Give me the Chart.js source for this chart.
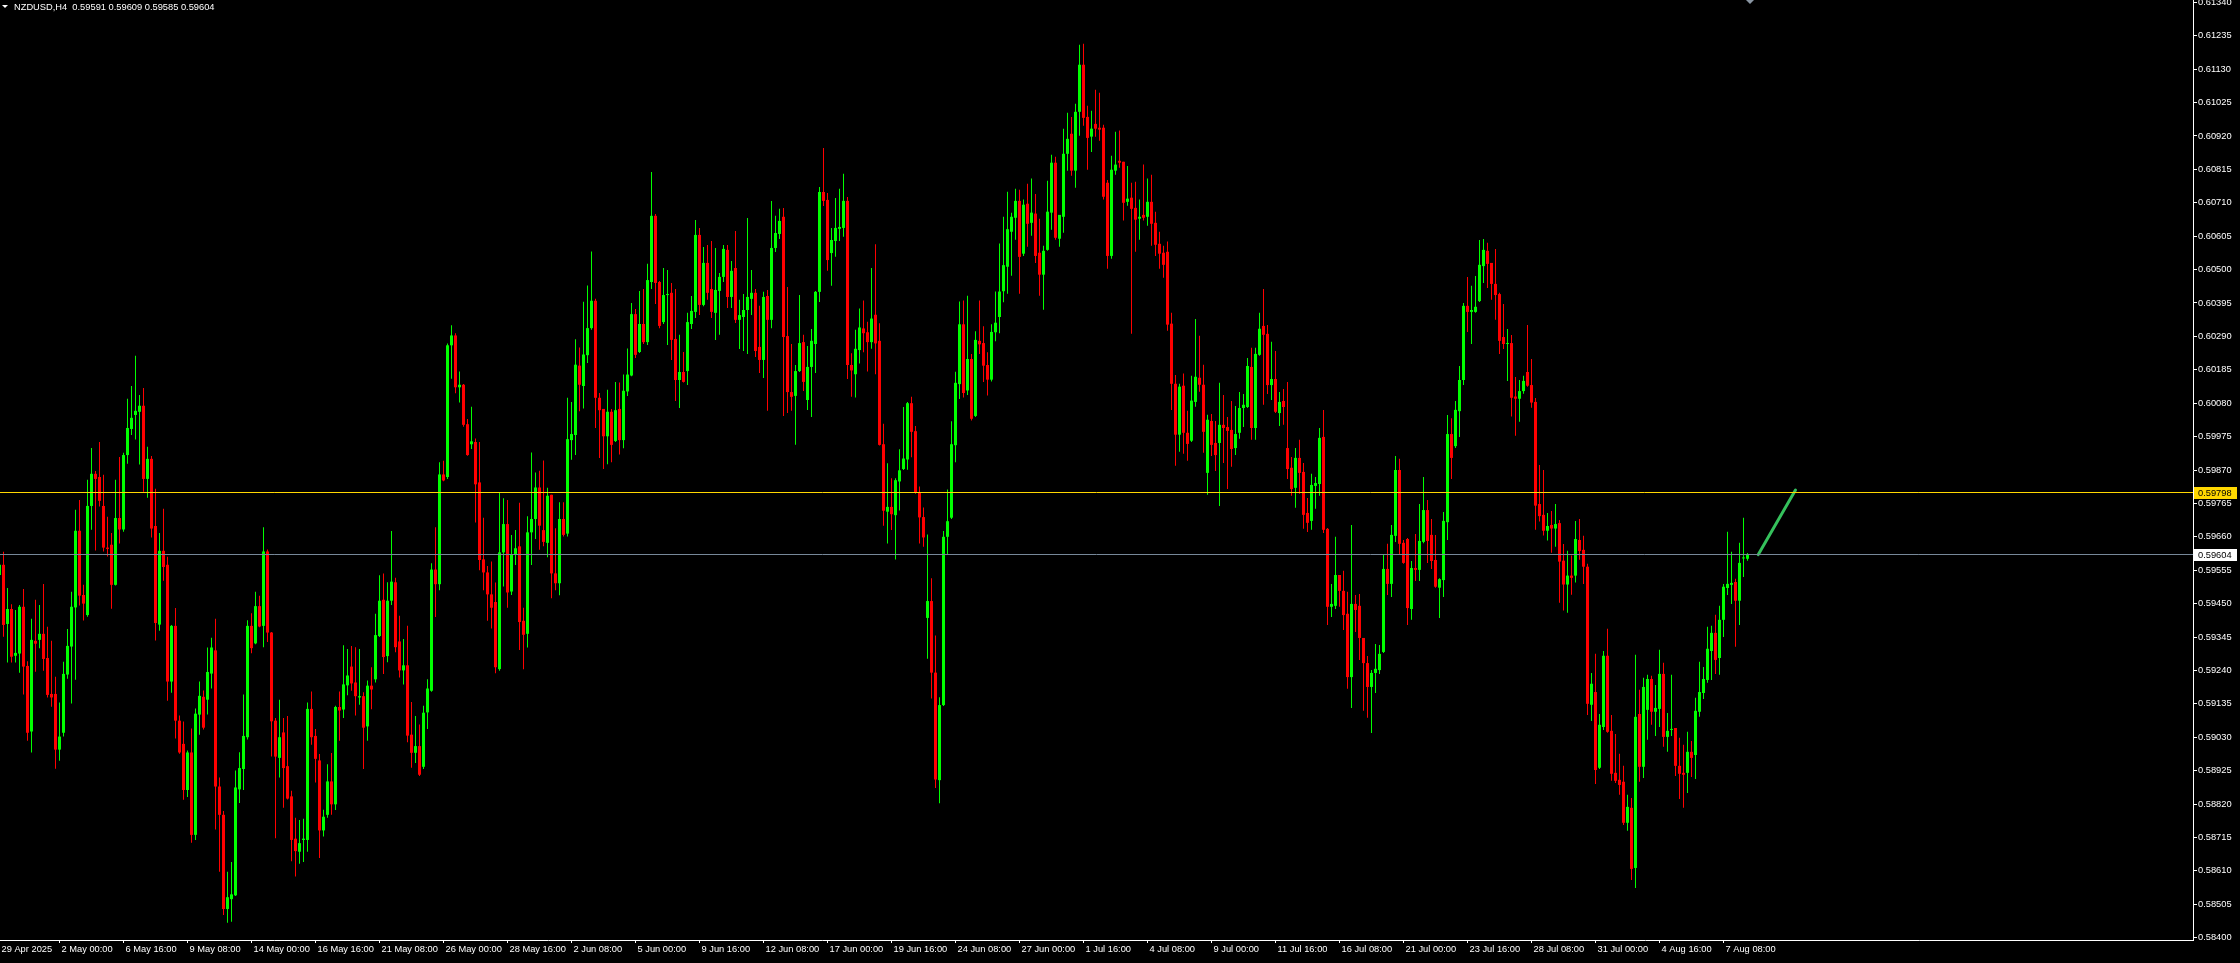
<!DOCTYPE html>
<html lang="en">
<head>
<meta charset="utf-8">
<title>NZDUSD,H4</title>
<script src="https://cdn.jsdelivr.net/npm/chart.js@4.4.1/dist/chart.umd.min.js"></script>
<style>
  html, body { margin: 0; padding: 0; background: #000; overflow: hidden; }
  canvas { display: block; }
</style>
</head>
<body>
<canvas id="chart" width="2240" height="963"></canvas>
<script>
// NZDUSD H4, one entry per bar. firstBar is the candle cut by the left edge.
const symbol = 'NZDUSD,H4';
const firstBar = -1;

const opens = [
  0.59540, 0.59572, 0.59386, 0.59433, 0.59286, 0.59293, 0.59440, 0.59254, 0.59048, 0.59333,
  0.59336, 0.59355, 0.59279, 0.59166, 0.59166, 0.58991, 0.59044, 0.59227, 0.59315, 0.59438,
  0.59679, 0.59477, 0.59414, 0.59757, 0.59858, 0.59848, 0.59757, 0.59626, 0.59635, 0.59509,
  0.59719, 0.59683, 0.59917, 0.59999, 0.60043, 0.60053, 0.60072, 0.59842, 0.59905, 0.59694,
  0.59384, 0.59616, 0.59572, 0.59205, 0.59380, 0.59082, 0.59009, 0.58864, 0.58982, 0.58723,
  0.59101, 0.59157, 0.59148, 0.59230, 0.59303, 0.58875, 0.58786, 0.58490, 0.58521, 0.58533,
  0.58866, 0.58930, 0.59030, 0.59380, 0.59325, 0.59442, 0.59380, 0.59614, 0.59359, 0.59082,
  0.58965, 0.59045, 0.58939, 0.58844, 0.58711, 0.58670, 0.58707, 0.58707, 0.59119, 0.59034,
  0.58957, 0.58737, 0.58786, 0.58891, 0.58819, 0.59125, 0.59117, 0.59193, 0.59252, 0.59202,
  0.59155, 0.59159, 0.59064, 0.59192, 0.59212, 0.59348, 0.59462, 0.59285, 0.59459, 0.59517,
  0.59331, 0.59240, 0.59256, 0.59038, 0.58981, 0.59002, 0.58937, 0.59108, 0.59176, 0.59557,
  0.59511, 0.59856, 0.59848, 0.60262, 0.60293, 0.60130, 0.60138, 0.60014, 0.59951, 0.59958,
  0.59831, 0.59589, 0.59548, 0.59479, 0.59455, 0.59244, 0.59611, 0.59700, 0.59488, 0.59605,
  0.59630, 0.59396, 0.59355, 0.59674, 0.59716, 0.59815, 0.59681, 0.59641, 0.59792, 0.59545,
  0.59514, 0.59716, 0.59670, 0.59964, 0.59980, 0.60198, 0.60134, 0.60231, 0.60316, 0.60402,
  0.60097, 0.60062, 0.59976, 0.60053, 0.59961, 0.60062, 0.59964, 0.60117, 0.60167, 0.60360,
  0.60241, 0.60329, 0.60272, 0.60461, 0.60669, 0.60461, 0.60335, 0.60420, 0.60427, 0.60282,
  0.60153, 0.60178, 0.60181, 0.60329, 0.60367, 0.60609, 0.60389, 0.60521, 0.60439, 0.60364,
  0.60433, 0.60477, 0.60562, 0.60414, 0.60505, 0.60342, 0.60351, 0.60373, 0.60408, 0.60427,
  0.60257, 0.60216, 0.60417, 0.60342, 0.60568, 0.60612, 0.60666, 0.60291, 0.60115, 0.60103,
  0.60181, 0.60272, 0.60090, 0.60194, 0.60266, 0.60430, 0.60744, 0.60719, 0.60552, 0.60590,
  0.60628, 0.60631, 0.60716, 0.60200, 0.60171, 0.60247, 0.60315, 0.60303, 0.60272, 0.60358,
  0.60276, 0.59951, 0.59739, 0.59754, 0.59728, 0.59834, 0.59873, 0.59903, 0.60080, 0.59992,
  0.59798, 0.59722, 0.59405, 0.59458, 0.59233, 0.58895, 0.59131, 0.59660, 0.59720, 0.59948,
  0.60140, 0.60328, 0.60120, 0.60219, 0.60040, 0.60276, 0.60269, 0.60200, 0.60154, 0.60303,
  0.60351, 0.60432, 0.60509, 0.60619, 0.60663, 0.60716, 0.60550, 0.60707, 0.60647, 0.60676,
  0.60553, 0.60484, 0.60562, 0.60679, 0.60836, 0.60597, 0.60666, 0.60864, 0.60927, 0.60811,
  0.60996, 0.61144, 0.60980, 0.60918, 0.60958, 0.60946, 0.60946, 0.60773, 0.60543, 0.60811,
  0.60842, 0.60839, 0.60713, 0.60726, 0.60694, 0.60660, 0.60672, 0.60666, 0.60713, 0.60647,
  0.60581, 0.60553, 0.60556, 0.60330, 0.60141, 0.59981, 0.60135, 0.59987, 0.59962, 0.60084,
  0.60160, 0.60138, 0.59861, 0.60024, 0.59955, 0.59955, 0.60012, 0.60005, 0.59996, 0.59939,
  0.59987, 0.60065, 0.60068, 0.60194, 0.60002, 0.60232, 0.60323, 0.60298, 0.60137, 0.60156,
  0.60049, 0.60087, 0.59939, 0.59877, 0.59814, 0.59908, 0.59864, 0.59735, 0.59710, 0.59820,
  0.59826, 0.59974, 0.59685, 0.59440, 0.59443, 0.59540, 0.59490, 0.59418, 0.59219, 0.59449,
  0.59443, 0.59342, 0.59263, 0.59188, 0.59232, 0.59241, 0.59298, 0.59559, 0.59512, 0.59663,
  0.59870, 0.59641, 0.59653, 0.59433, 0.59562, 0.59556, 0.59644, 0.59744, 0.59666, 0.59587,
  0.59500, 0.59524, 0.59706, 0.59983, 0.59945, 0.60055, 0.60153, 0.60386, 0.60367, 0.60367,
  0.60401, 0.60511, 0.60559, 0.60521, 0.60455, 0.60423, 0.60288, 0.60266, 0.60269, 0.60101,
  0.60094, 0.60118, 0.60178, 0.60137, 0.60084, 0.59763, 0.59729, 0.59679, 0.59697, 0.59686,
  0.59703, 0.59585, 0.59510, 0.59538, 0.59538, 0.59650, 0.59619, 0.59566, 0.59132, 0.59172,
  0.58934, 0.59062, 0.59286, 0.59050, 0.58918, 0.58896, 0.58890, 0.58761, 0.58808, 0.58619,
  0.59103, 0.58937, 0.59116, 0.59213, 0.59110, 0.59119, 0.59229, 0.59031, 0.59053, 0.59059,
  0.58940, 0.58918, 0.58918, 0.58984, 0.58974, 0.59110, 0.59169, 0.59210, 0.59301, 0.59358,
  0.59279, 0.59399, 0.59499, 0.59509, 0.59518, 0.59459, 0.59592, 0.59591
];

const highs = [
  0.59577, 0.59613, 0.59499, 0.59448, 0.59430, 0.59446, 0.59496, 0.59269, 0.59402, 0.59462,
  0.59446, 0.59512, 0.59377, 0.59333, 0.59220, 0.59139, 0.59267, 0.59370, 0.59487, 0.59745,
  0.59776, 0.59509, 0.59839, 0.59939, 0.59867, 0.59958, 0.59855, 0.59723, 0.59672, 0.59839,
  0.59911, 0.59924, 0.60094, 0.60134, 0.60229, 0.60106, 0.60128, 0.59943, 0.59914, 0.59811,
  0.59672, 0.59748, 0.59597, 0.59383, 0.59436, 0.59098, 0.59079, 0.58988, 0.59057, 0.59120,
  0.59205, 0.59177, 0.59312, 0.59343, 0.59402, 0.58903, 0.58798, 0.58607, 0.58638, 0.58925,
  0.58983, 0.59164, 0.59398, 0.59420, 0.59487, 0.59475, 0.59690, 0.59620, 0.59361, 0.59090,
  0.59148, 0.59090, 0.59097, 0.58862, 0.58777, 0.58770, 0.58774, 0.59139, 0.59174, 0.59056,
  0.58977, 0.58802, 0.58945, 0.58980, 0.59129, 0.59174, 0.59319, 0.59307, 0.59317, 0.59313,
  0.59307, 0.59171, 0.59208, 0.59250, 0.59418, 0.59539, 0.59545, 0.59517, 0.59678, 0.59531,
  0.59412, 0.59339, 0.59380, 0.59141, 0.59097, 0.59070, 0.59129, 0.59212, 0.59577, 0.59690,
  0.59894, 0.59899, 0.60268, 0.60325, 0.60300, 0.60180, 0.60140, 0.60030, 0.60069, 0.59969,
  0.59958, 0.59720, 0.59568, 0.59582, 0.59516, 0.59800, 0.59781, 0.59776, 0.59666, 0.59681,
  0.59767, 0.59437, 0.59725, 0.59925, 0.59862, 0.59868, 0.59900, 0.59814, 0.59792, 0.59687,
  0.59769, 0.59769, 0.60097, 0.60084, 0.60281, 0.60255, 0.60399, 0.60450, 0.60557, 0.60408,
  0.60112, 0.60062, 0.60122, 0.60062, 0.60147, 0.60145, 0.60170, 0.60252, 0.60395, 0.60376,
  0.60433, 0.60439, 0.60518, 0.60807, 0.60675, 0.60464, 0.60505, 0.60499, 0.60458, 0.60439,
  0.60295, 0.60241, 0.60364, 0.60417, 0.60656, 0.60631, 0.60571, 0.60577, 0.60590, 0.60568,
  0.60489, 0.60577, 0.60577, 0.60527, 0.60621, 0.60405, 0.60423, 0.60662, 0.60499, 0.60439,
  0.60386, 0.60430, 0.60436, 0.60716, 0.60669, 0.60691, 0.60694, 0.60445, 0.60266, 0.60200,
  0.60420, 0.60295, 0.60260, 0.60313, 0.60433, 0.60760, 0.60882, 0.60741, 0.60631, 0.60725,
  0.60754, 0.60801, 0.60728, 0.60237, 0.60311, 0.60378, 0.60403, 0.60336, 0.60505, 0.60580,
  0.60331, 0.60015, 0.59891, 0.59844, 0.59844, 0.59935, 0.60068, 0.60084, 0.60100, 0.60008,
  0.59818, 0.59752, 0.59667, 0.59530, 0.59350, 0.59156, 0.59678, 0.59809, 0.60023, 0.60179,
  0.60400, 0.60403, 0.60418, 0.60235, 0.60306, 0.60403, 0.60322, 0.60240, 0.60328, 0.60431,
  0.60582, 0.60666, 0.60745, 0.60679, 0.60754, 0.60751, 0.60720, 0.60770, 0.60786, 0.60738,
  0.60660, 0.60575, 0.60779, 0.60861, 0.60855, 0.60672, 0.60943, 0.60993, 0.60980, 0.61021,
  0.61207, 0.61210, 0.61015, 0.60999, 0.61065, 0.61056, 0.60955, 0.60782, 0.60858, 0.60933,
  0.60937, 0.60839, 0.60826, 0.60773, 0.60776, 0.60720, 0.60830, 0.60786, 0.60798, 0.60682,
  0.60619, 0.60575, 0.60588, 0.60364, 0.60169, 0.60141, 0.60173, 0.60056, 0.60166, 0.60345,
  0.60292, 0.60201, 0.60044, 0.60046, 0.60024, 0.60144, 0.60106, 0.60037, 0.60087, 0.60071,
  0.60115, 0.60109, 0.60222, 0.60254, 0.60254, 0.60364, 0.60439, 0.60326, 0.60273, 0.60244,
  0.60115, 0.60125, 0.60147, 0.59911, 0.59939, 0.59965, 0.59892, 0.59782, 0.59858, 0.59848,
  0.60002, 0.60059, 0.59688, 0.59512, 0.59660, 0.59540, 0.59553, 0.59487, 0.59697, 0.59477,
  0.59480, 0.59342, 0.59285, 0.59241, 0.59323, 0.59320, 0.59603, 0.59638, 0.59697, 0.59914,
  0.59905, 0.59650, 0.59656, 0.59584, 0.59669, 0.59763, 0.59848, 0.59776, 0.59716, 0.59666,
  0.59530, 0.59738, 0.60043, 0.60033, 0.60087, 0.60197, 0.60395, 0.60477, 0.60449, 0.60480,
  0.60593, 0.60596, 0.60584, 0.60521, 0.60565, 0.60427, 0.60392, 0.60313, 0.60294, 0.60162,
  0.60153, 0.60166, 0.60326, 0.60219, 0.60096, 0.59886, 0.59870, 0.59735, 0.59741, 0.59763,
  0.59713, 0.59637, 0.59616, 0.59601, 0.59710, 0.59716, 0.59663, 0.59575, 0.59232, 0.59292,
  0.59103, 0.59301, 0.59371, 0.59100, 0.59040, 0.58978, 0.58940, 0.58849, 0.58839, 0.59289,
  0.59179, 0.59217, 0.59226, 0.59223, 0.59194, 0.59305, 0.59264, 0.59106, 0.59226, 0.59059,
  0.59028, 0.59006, 0.59047, 0.59018, 0.59154, 0.59267, 0.59251, 0.59377, 0.59380, 0.59415,
  0.59443, 0.59512, 0.59676, 0.59613, 0.59528, 0.59641, 0.59720, 0.59609
];

const lows = [
  0.59535, 0.59346, 0.59265, 0.59265, 0.59265, 0.59233, 0.59164, 0.59019, 0.58982, 0.59236,
  0.59310, 0.59239, 0.59155, 0.59126, 0.58931, 0.58956, 0.59032, 0.59214, 0.59136, 0.59211,
  0.59444, 0.59397, 0.59409, 0.59682, 0.59617, 0.59755, 0.59614, 0.59598, 0.59434, 0.59507,
  0.59639, 0.59676, 0.59890, 0.59980, 0.59966, 0.59887, 0.59802, 0.59783, 0.59658, 0.59334,
  0.59365, 0.59522, 0.59145, 0.59170, 0.59026, 0.58978, 0.58833, 0.58842, 0.58698, 0.58707,
  0.59038, 0.59054, 0.59101, 0.59183, 0.58740, 0.58607, 0.58471, 0.58447, 0.58450, 0.58531,
  0.58823, 0.58864, 0.59023, 0.59294, 0.59322, 0.59376, 0.59313, 0.59329, 0.58969, 0.58712,
  0.58903, 0.58808, 0.58834, 0.58640, 0.58592, 0.58632, 0.58638, 0.58670, 0.59006, 0.58888,
  0.58650, 0.58718, 0.58777, 0.58786, 0.58801, 0.59019, 0.59090, 0.59162, 0.59176, 0.59098,
  0.59132, 0.58930, 0.59019, 0.59118, 0.59202, 0.59345, 0.59229, 0.59266, 0.59446, 0.59297,
  0.59218, 0.59196, 0.59014, 0.58934, 0.58949, 0.58908, 0.58930, 0.59056, 0.59173, 0.59408,
  0.59492, 0.59835, 0.59842, 0.60157, 0.60111, 0.60082, 0.60006, 0.59915, 0.59936, 0.59705,
  0.59555, 0.59492, 0.59396, 0.59372, 0.59231, 0.59239, 0.59504, 0.59437, 0.59477, 0.59571,
  0.59304, 0.59244, 0.59312, 0.59571, 0.59653, 0.59619, 0.59630, 0.59596, 0.59467, 0.59492,
  0.59476, 0.59661, 0.59661, 0.59902, 0.59917, 0.60055, 0.60063, 0.60206, 0.60311, 0.60002,
  0.59908, 0.59873, 0.59888, 0.59894, 0.59958, 0.59919, 0.59938, 0.60103, 0.60165, 0.60222,
  0.60238, 0.60266, 0.60263, 0.60439, 0.60392, 0.60316, 0.60329, 0.60263, 0.60216, 0.60087,
  0.60065, 0.60145, 0.60137, 0.60313, 0.60348, 0.60357, 0.60385, 0.60405, 0.60348, 0.60279,
  0.60295, 0.60461, 0.60379, 0.60379, 0.60332, 0.60250, 0.60244, 0.60235, 0.60357, 0.60225,
  0.60175, 0.60159, 0.60056, 0.60316, 0.60555, 0.60596, 0.60040, 0.60049, 0.60056, 0.59949,
  0.60178, 0.60118, 0.60059, 0.60037, 0.60175, 0.60398, 0.60700, 0.60496, 0.60449, 0.60540,
  0.60590, 0.60603, 0.60156, 0.60100, 0.60098, 0.60205, 0.60240, 0.60180, 0.60251, 0.60171,
  0.59947, 0.59695, 0.59639, 0.59681, 0.59589, 0.59743, 0.59870, 0.59871, 0.59910, 0.59795,
  0.59639, 0.59629, 0.59277, 0.59152, 0.58870, 0.58822, 0.59128, 0.59604, 0.59716, 0.59894,
  0.60093, 0.60098, 0.60106, 0.60026, 0.60037, 0.60235, 0.60147, 0.60104, 0.60148, 0.60275,
  0.60300, 0.60397, 0.60424, 0.60481, 0.60594, 0.60424, 0.60543, 0.60572, 0.60606, 0.60521,
  0.60418, 0.60374, 0.60559, 0.60625, 0.60594, 0.60572, 0.60616, 0.60811, 0.60795, 0.60757,
  0.60921, 0.60952, 0.60814, 0.60870, 0.60918, 0.60905, 0.60720, 0.60503, 0.60534, 0.60798,
  0.60820, 0.60654, 0.60701, 0.60298, 0.60556, 0.60594, 0.60654, 0.60638, 0.60575, 0.60543,
  0.60503, 0.60474, 0.60308, 0.60059, 0.59883, 0.59927, 0.59921, 0.59899, 0.59958, 0.60069,
  0.60116, 0.59924, 0.59792, 0.59914, 0.59867, 0.59757, 0.59892, 0.59810, 0.59880, 0.59917,
  0.59968, 0.60005, 0.60065, 0.59965, 0.59965, 0.60229, 0.60075, 0.60109, 0.60090, 0.60049,
  0.60008, 0.60012, 0.59842, 0.59789, 0.59751, 0.59795, 0.59685, 0.59675, 0.59682, 0.59748,
  0.59789, 0.59672, 0.59383, 0.59408, 0.59433, 0.59440, 0.59367, 0.59182, 0.59122, 0.59361,
  0.59273, 0.59113, 0.59091, 0.59043, 0.59169, 0.59229, 0.59295, 0.59477, 0.59471, 0.59644,
  0.59603, 0.59575, 0.59383, 0.59399, 0.59521, 0.59521, 0.59640, 0.59578, 0.59559, 0.59500,
  0.59405, 0.59471, 0.59650, 0.59842, 0.59939, 0.59974, 0.60137, 0.60304, 0.60266, 0.60364,
  0.60398, 0.60458, 0.60442, 0.60405, 0.60342, 0.60235, 0.60250, 0.60150, 0.60038, 0.59978,
  0.60022, 0.60110, 0.60132, 0.60066, 0.59682, 0.59708, 0.59664, 0.59648, 0.59610, 0.59629,
  0.59453, 0.59428, 0.59421, 0.59478, 0.59516, 0.59588, 0.59512, 0.59100, 0.59081, 0.58883,
  0.58930, 0.59053, 0.59044, 0.58893, 0.58886, 0.58849, 0.58754, 0.58736, 0.58581, 0.58556,
  0.58890, 0.58902, 0.59022, 0.59069, 0.59034, 0.59062, 0.59000, 0.58984, 0.59034, 0.58908,
  0.58836, 0.58808, 0.58855, 0.58905, 0.58899, 0.59094, 0.59150, 0.59201, 0.59210, 0.59229,
  0.59226, 0.59345, 0.59477, 0.59449, 0.59314, 0.59383, 0.59534, 0.59585
];

const closes = [
  0.59572, 0.59383, 0.59433, 0.59283, 0.59295, 0.59440, 0.59252, 0.59044, 0.59336, 0.59324,
  0.59355, 0.59276, 0.59163, 0.59155, 0.58991, 0.59032, 0.59229, 0.59317, 0.59440, 0.59679,
  0.59475, 0.59450, 0.59757, 0.59858, 0.59842, 0.59773, 0.59626, 0.59622, 0.59509, 0.59719,
  0.59683, 0.59917, 0.60002, 0.60034, 0.60056, 0.60072, 0.59842, 0.59905, 0.59686, 0.59389,
  0.59616, 0.59565, 0.59205, 0.59380, 0.59082, 0.58982, 0.58864, 0.58982, 0.58723, 0.59104,
  0.59160, 0.59060, 0.59235, 0.59312, 0.58875, 0.58786, 0.58490, 0.58527, 0.58536, 0.58872,
  0.58933, 0.59034, 0.59380, 0.59310, 0.59442, 0.59378, 0.59614, 0.59359, 0.59080, 0.58969,
  0.59030, 0.58933, 0.58837, 0.58707, 0.58672, 0.58697, 0.58711, 0.59119, 0.59030, 0.58962,
  0.58737, 0.58780, 0.58891, 0.58819, 0.59125, 0.59114, 0.59196, 0.59224, 0.59199, 0.59159,
  0.59159, 0.59060, 0.59192, 0.59180, 0.59351, 0.59459, 0.59282, 0.59459, 0.59519, 0.59313,
  0.59240, 0.59256, 0.59035, 0.58981, 0.59002, 0.58912, 0.59107, 0.59183, 0.59557, 0.59511,
  0.59856, 0.59837, 0.60262, 0.60293, 0.60130, 0.60138, 0.60012, 0.59917, 0.59960, 0.59825,
  0.59587, 0.59548, 0.59479, 0.59437, 0.59250, 0.59611, 0.59700, 0.59485, 0.59605, 0.59624,
  0.59392, 0.59352, 0.59674, 0.59716, 0.59815, 0.59695, 0.59644, 0.59789, 0.59545, 0.59514,
  0.59716, 0.59666, 0.59967, 0.59983, 0.60201, 0.60138, 0.60233, 0.60316, 0.60402, 0.60097,
  0.60058, 0.59976, 0.60053, 0.59949, 0.60058, 0.59964, 0.60119, 0.60170, 0.60360, 0.60232,
  0.60329, 0.60272, 0.60467, 0.60669, 0.60458, 0.60323, 0.60420, 0.60423, 0.60279, 0.60153,
  0.60178, 0.60147, 0.60335, 0.60370, 0.60609, 0.60389, 0.60521, 0.60427, 0.60367, 0.60436,
  0.60477, 0.60565, 0.60414, 0.60496, 0.60342, 0.60357, 0.60373, 0.60414, 0.60427, 0.60244,
  0.60216, 0.60414, 0.60342, 0.60568, 0.60615, 0.60653, 0.60288, 0.60115, 0.60100, 0.60181,
  0.60269, 0.60147, 0.60194, 0.60276, 0.60430, 0.60744, 0.60716, 0.60530, 0.60593, 0.60631,
  0.60634, 0.60716, 0.60200, 0.60183, 0.60251, 0.60318, 0.60300, 0.60272, 0.60346, 0.60268,
  0.59949, 0.59742, 0.59754, 0.59731, 0.59838, 0.59869, 0.59906, 0.60080, 0.59990, 0.59798,
  0.59721, 0.59658, 0.59458, 0.59233, 0.58897, 0.59131, 0.59660, 0.59709, 0.59951, 0.60144,
  0.60328, 0.60112, 0.60219, 0.60031, 0.60279, 0.60265, 0.60198, 0.60154, 0.60304, 0.60333,
  0.60431, 0.60514, 0.60627, 0.60666, 0.60716, 0.60540, 0.60704, 0.60644, 0.60679, 0.60543,
  0.60484, 0.60559, 0.60682, 0.60836, 0.60600, 0.60672, 0.60864, 0.60911, 0.60811, 0.60996,
  0.61144, 0.60977, 0.60914, 0.60943, 0.60943, 0.60940, 0.60729, 0.60543, 0.60814, 0.60830,
  0.60836, 0.60710, 0.60723, 0.60691, 0.60657, 0.60666, 0.60663, 0.60713, 0.60644, 0.60578,
  0.60550, 0.60515, 0.60327, 0.60141, 0.59981, 0.60132, 0.59987, 0.59952, 0.60088, 0.60163,
  0.60138, 0.59990, 0.60028, 0.59949, 0.59917, 0.60012, 0.60002, 0.59993, 0.59936, 0.59983,
  0.60065, 0.60075, 0.60197, 0.60002, 0.60235, 0.60314, 0.60295, 0.60137, 0.60156, 0.60053,
  0.60084, 0.60068, 0.59873, 0.59810, 0.59908, 0.59861, 0.59729, 0.59704, 0.59823, 0.59829,
  0.59971, 0.59682, 0.59440, 0.59449, 0.59540, 0.59490, 0.59414, 0.59219, 0.59449, 0.59430,
  0.59342, 0.59263, 0.59188, 0.59232, 0.59245, 0.59292, 0.59559, 0.59512, 0.59666, 0.59870,
  0.59638, 0.59578, 0.59436, 0.59562, 0.59556, 0.59647, 0.59744, 0.59647, 0.59584, 0.59503,
  0.59527, 0.59710, 0.59983, 0.59908, 0.60059, 0.60153, 0.60386, 0.60367, 0.60373, 0.60383,
  0.60515, 0.60562, 0.60518, 0.60455, 0.60420, 0.60276, 0.60266, 0.60269, 0.60097, 0.60094,
  0.60118, 0.60150, 0.60135, 0.60082, 0.59758, 0.59725, 0.59679, 0.59694, 0.59686, 0.59700,
  0.59582, 0.59510, 0.59538, 0.59531, 0.59653, 0.59615, 0.59566, 0.59135, 0.59198, 0.58927,
  0.59069, 0.59286, 0.59047, 0.58915, 0.58893, 0.58880, 0.58761, 0.58811, 0.58616, 0.59094,
  0.58937, 0.59188, 0.59213, 0.59110, 0.59122, 0.59229, 0.59031, 0.59050, 0.59056, 0.58940,
  0.58915, 0.58912, 0.58984, 0.58965, 0.59113, 0.59172, 0.59213, 0.59308, 0.59358, 0.59273,
  0.59399, 0.59503, 0.59512, 0.59515, 0.59459, 0.59578, 0.59594, 0.59604
];

// price scale labels
const priceTicks = [
  0.58400, 0.58505, 0.58610, 0.58715, 0.58820, 0.58925, 0.59030, 0.59135, 0.59240, 0.59345,
  0.59450, 0.59555, 0.59660, 0.59765, 0.59870, 0.59975, 0.60080, 0.60185, 0.60290, 0.60395,
  0.60500, 0.60605, 0.60710, 0.60815, 0.60920, 0.61025, 0.61130, 0.61235, 0.61340
];

// time scale labels and the bar each one belongs to
const timeTickBars = [-1, 14, 30, 46, 62, 78, 94, 110, 126, 142, 158, 174, 190, 206,
  222, 238, 254, 270, 286, 302, 318, 334, 350, 366, 382, 398, 414, 430];
const timeTickLabels = ['29 Apr 2025', '2 May 00:00', '6 May 16:00', '9 May 08:00', '14 May 00:00',
  '16 May 16:00', '21 May 08:00', '26 May 00:00', '28 May 16:00', '2 Jun 08:00', '5 Jun 00:00',
  '9 Jun 16:00', '12 Jun 08:00', '17 Jun 00:00', '19 Jun 16:00', '24 Jun 08:00', '27 Jun 00:00',
  '1 Jul 16:00', '4 Jul 08:00', '9 Jul 00:00', '11 Jul 16:00', '16 Jul 08:00', '21 Jul 00:00',
  '23 Jul 16:00', '28 Jul 08:00', '31 Jul 00:00', '4 Aug 16:00', '7 Aug 08:00'];

// horizontal line object and the hand drawn projection stroke
const levelPrice = 0.59798;
const forecastLine = [{ x: 438.7, y: 0.59604 }, { x: 448.0, y: 0.59807 }];

const BULL = '#00ff00';
const BEAR = '#ff0000';
const FG = '#ffffff';
const LEVEL_COLOR = '#ffd700';
const BID_COLOR = '#778899';
const FONT = '"Liberation Sans", Arial, sans-serif';
const FONT_SIZE = 9.3;

const last = opens.length - 1;
const bid = closes[last];
const barX = opens.map((o, i) => firstBar + i);
const candleColor = opens.map((o, i) => (closes[i] >= o ? BULL : BEAR));

const mtOverlay = {
  id: 'mtOverlay',
  beforeDraw(chart) {
    const { ctx, width, height } = chart;
    ctx.save();
    ctx.fillStyle = '#000';
    ctx.fillRect(0, 0, width, height);
    ctx.restore();
  },
  afterDatasetsDraw(chart) {
    const { ctx, chartArea: a, scales: { y } } = chart;
    ctx.save();
    ctx.lineWidth = 1;
    [[levelPrice, LEVEL_COLOR], [bid, BID_COLOR]].forEach(([p, col]) => {
      const py = Math.floor(y.getPixelForValue(p)) + 0.5;
      ctx.strokeStyle = col;
      ctx.beginPath();
      ctx.moveTo(a.left, py);
      ctx.lineTo(a.right, py);
      ctx.stroke();
    });
    ctx.restore();
  },
  afterDraw(chart) {
    const { ctx, chartArea: a, scales: { x, y } } = chart;
    ctx.save();
    ctx.font = FONT_SIZE + 'px ' + FONT;
    ctx.textBaseline = 'middle';
    // price tags sitting on the axis
    [[levelPrice, LEVEL_COLOR], [bid, '#ffffff']].forEach(([p, fill]) => {
      const py = Math.floor(y.getPixelForValue(p));
      ctx.fillStyle = fill;
      ctx.fillRect(a.right + 1, py - 5, 43, 12);
      ctx.fillStyle = '#000';
      ctx.fillText(p.toFixed(5), a.right + 5, py + 1);
    });
    // symbol header
    ctx.fillStyle = FG;
    ctx.beginPath();
    ctx.moveTo(2, 5);
    ctx.lineTo(8, 5);
    ctx.lineTo(5, 8);
    ctx.closePath();
    ctx.fill();
    ctx.textBaseline = 'alphabetic';
    const ohlc = [opens[last], highs[last], lows[last], closes[last]].map(v => v.toFixed(5)).join(' ');
    ctx.fillText(symbol + '  ' + ohlc, 14, 9.5);
    // chart shift marker
    const sx = Math.round(x.getPixelForValue(last + firstBar + 0.7));
    ctx.fillStyle = '#8a96a3';
    ctx.beginPath();
    ctx.moveTo(sx - 4, 0);
    ctx.lineTo(sx + 4, 0);
    ctx.lineTo(sx, 4);
    ctx.closePath();
    ctx.fill();
    ctx.restore();
  }
};

new Chart(document.getElementById('chart'), {
  type: 'bar',
  data: {
    datasets: [
      {
        label: 'wick',
        data: barX.map((bx, i) => ({ x: bx, y: [lows[i], highs[i]] })),
        backgroundColor: candleColor,
        barThickness: 1,
        minBarLength: 1,
        grouped: false,
        inflateAmount: 0,
        borderWidth: 0,
        order: 3
      },
      {
        label: 'body',
        data: barX.map((bx, i) => ({ x: bx, y: [opens[i], closes[i]] })),
        backgroundColor: candleColor,
        barThickness: 3,
        minBarLength: 1,
        grouped: false,
        inflateAmount: 0,
        borderWidth: 0,
        order: 2
      },
      {
        type: 'line',
        label: 'projection',
        data: forecastLine,
        borderColor: '#35c15c',
        borderWidth: 3,
        borderCapStyle: 'round',
        pointRadius: 0,
        fill: false,
        order: 1
      }
    ]
  },
  options: {
    responsive: false,
    animation: false,
    devicePixelRatio: 1,
    events: [],
    layout: { padding: 0 },
    plugins: { legend: { display: false }, tooltip: { enabled: false } },
    scales: {
      x: {
        type: 'linear',
        position: 'bottom',
        min: -0.875,
        max: 547.375,
        offset: false,
        grid: { offset: false, drawOnChartArea: false, drawTicks: true, tickLength: 3, color: FG },
        border: { display: true, color: FG, width: 1 },
        ticks: {
          autoSkip: false,
          maxRotation: 0,
          align: 'start',
          labelOffset: 2,
          padding: 1,
          color: FG,
          font: { family: FONT, size: FONT_SIZE },
          callback: (v, i) => timeTickLabels[i]
        },
        afterBuildTicks: s => { s.ticks = timeTickBars.map(v => ({ value: v })); },
        afterFit: s => { s.height = 23; s.paddingLeft = 0; s.paddingRight = 0; }
      },
      y: {
        type: 'linear',
        position: 'right',
        min: 0.583925,
        max: 0.613475,
        beginAtZero: false,
        grid: { drawOnChartArea: false, drawTicks: true, tickLength: 4, color: FG },
        border: { display: true, color: FG, width: 1 },
        ticks: {
          autoSkip: false,
          padding: 1,
          color: FG,
          font: { family: FONT, size: FONT_SIZE },
          callback: v => v.toFixed(5)
        },
        afterBuildTicks: s => { s.ticks = priceTicks.map(v => ({ value: v })); },
        afterFit: s => { s.width = 47; s.paddingTop = 0; s.paddingBottom = 0; }
      }
    }
  },
  plugins: [mtOverlay]
});
</script>
</body>
</html>
